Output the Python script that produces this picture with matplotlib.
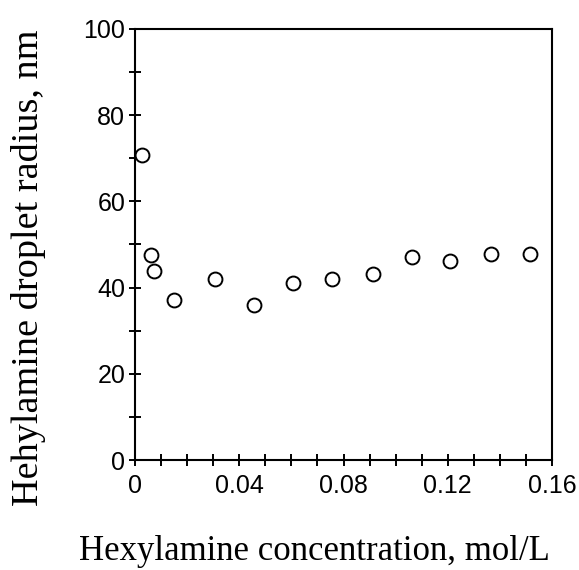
import numpy as np
import matplotlib
matplotlib.use('Agg')
import matplotlib.pyplot as plt
from matplotlib.ticker import MultipleLocator, FixedFormatter, FixedLocator

# data
conc = [0.0028, 0.0060, 0.0074, 0.0149, 0.0308, 0.0456, 0.0605,
        0.0754, 0.0913, 0.1061, 0.1207, 0.1366, 0.1515]  # mol/L
radius = [70.8, 47.6, 43.8, 37.1, 42.1, 36.0, 41.0,
          42.1, 43.2, 47.2, 46.1, 47.8, 47.8]  # nm

x_ticks = [0, 0.04, 0.08, 0.12, 0.16]
x_labels = ['0', '0.04', '0.08', '0.12', '0.16']
y_ticks = [0, 20, 40, 60, 80, 100]

W, H = 579, 570
fig = plt.figure(figsize=(W/100, H/100), dpi=100)
ax = fig.add_axes([135/W, 1-460/H, (552-135)/W, (460-29)/H])

ax.plot(conc, radius, 'o', mfc='white', mec='black', ms=10, mew=1.4,
        clip_on=False)

ax.set_xlim(0, 0.16)
ax.set_ylim(0, 100)
ax.xaxis.set_major_locator(FixedLocator(x_ticks))
ax.xaxis.set_major_formatter(FixedFormatter(x_labels))
ax.xaxis.set_minor_locator(MultipleLocator(0.01))
ax.yaxis.set_major_locator(FixedLocator(y_ticks))
ax.yaxis.set_minor_locator(MultipleLocator(10))

for s in ax.spines.values():
    s.set_linewidth(1.5)

ax.tick_params(which='both', direction='inout', length=8, width=1.4,
               top=False, right=False)
ax.tick_params(axis='x', which='major', pad=6)
ax.tick_params(axis='y', which='major', pad=3)
for lab in ax.get_xticklabels() + ax.get_yticklabels():
    lab.set_fontfamily('Liberation Sans')
    lab.set_fontsize(18)

# axis titles placed as figure text (pixel positions from the reference)
fig.text(314/W, 1-560/H, 'Hexylamine concentration, mol/L',
         family='Liberation Serif', fontsize=25, ha='center', va='baseline')
fig.text(29/W, 1-268/H, 'Hehylamine droplet radius, nm',
         family='Liberation Serif', fontsize=27.5, ha='center', va='center',
         rotation=90)

fig.savefig('out.png', dpi=100)
